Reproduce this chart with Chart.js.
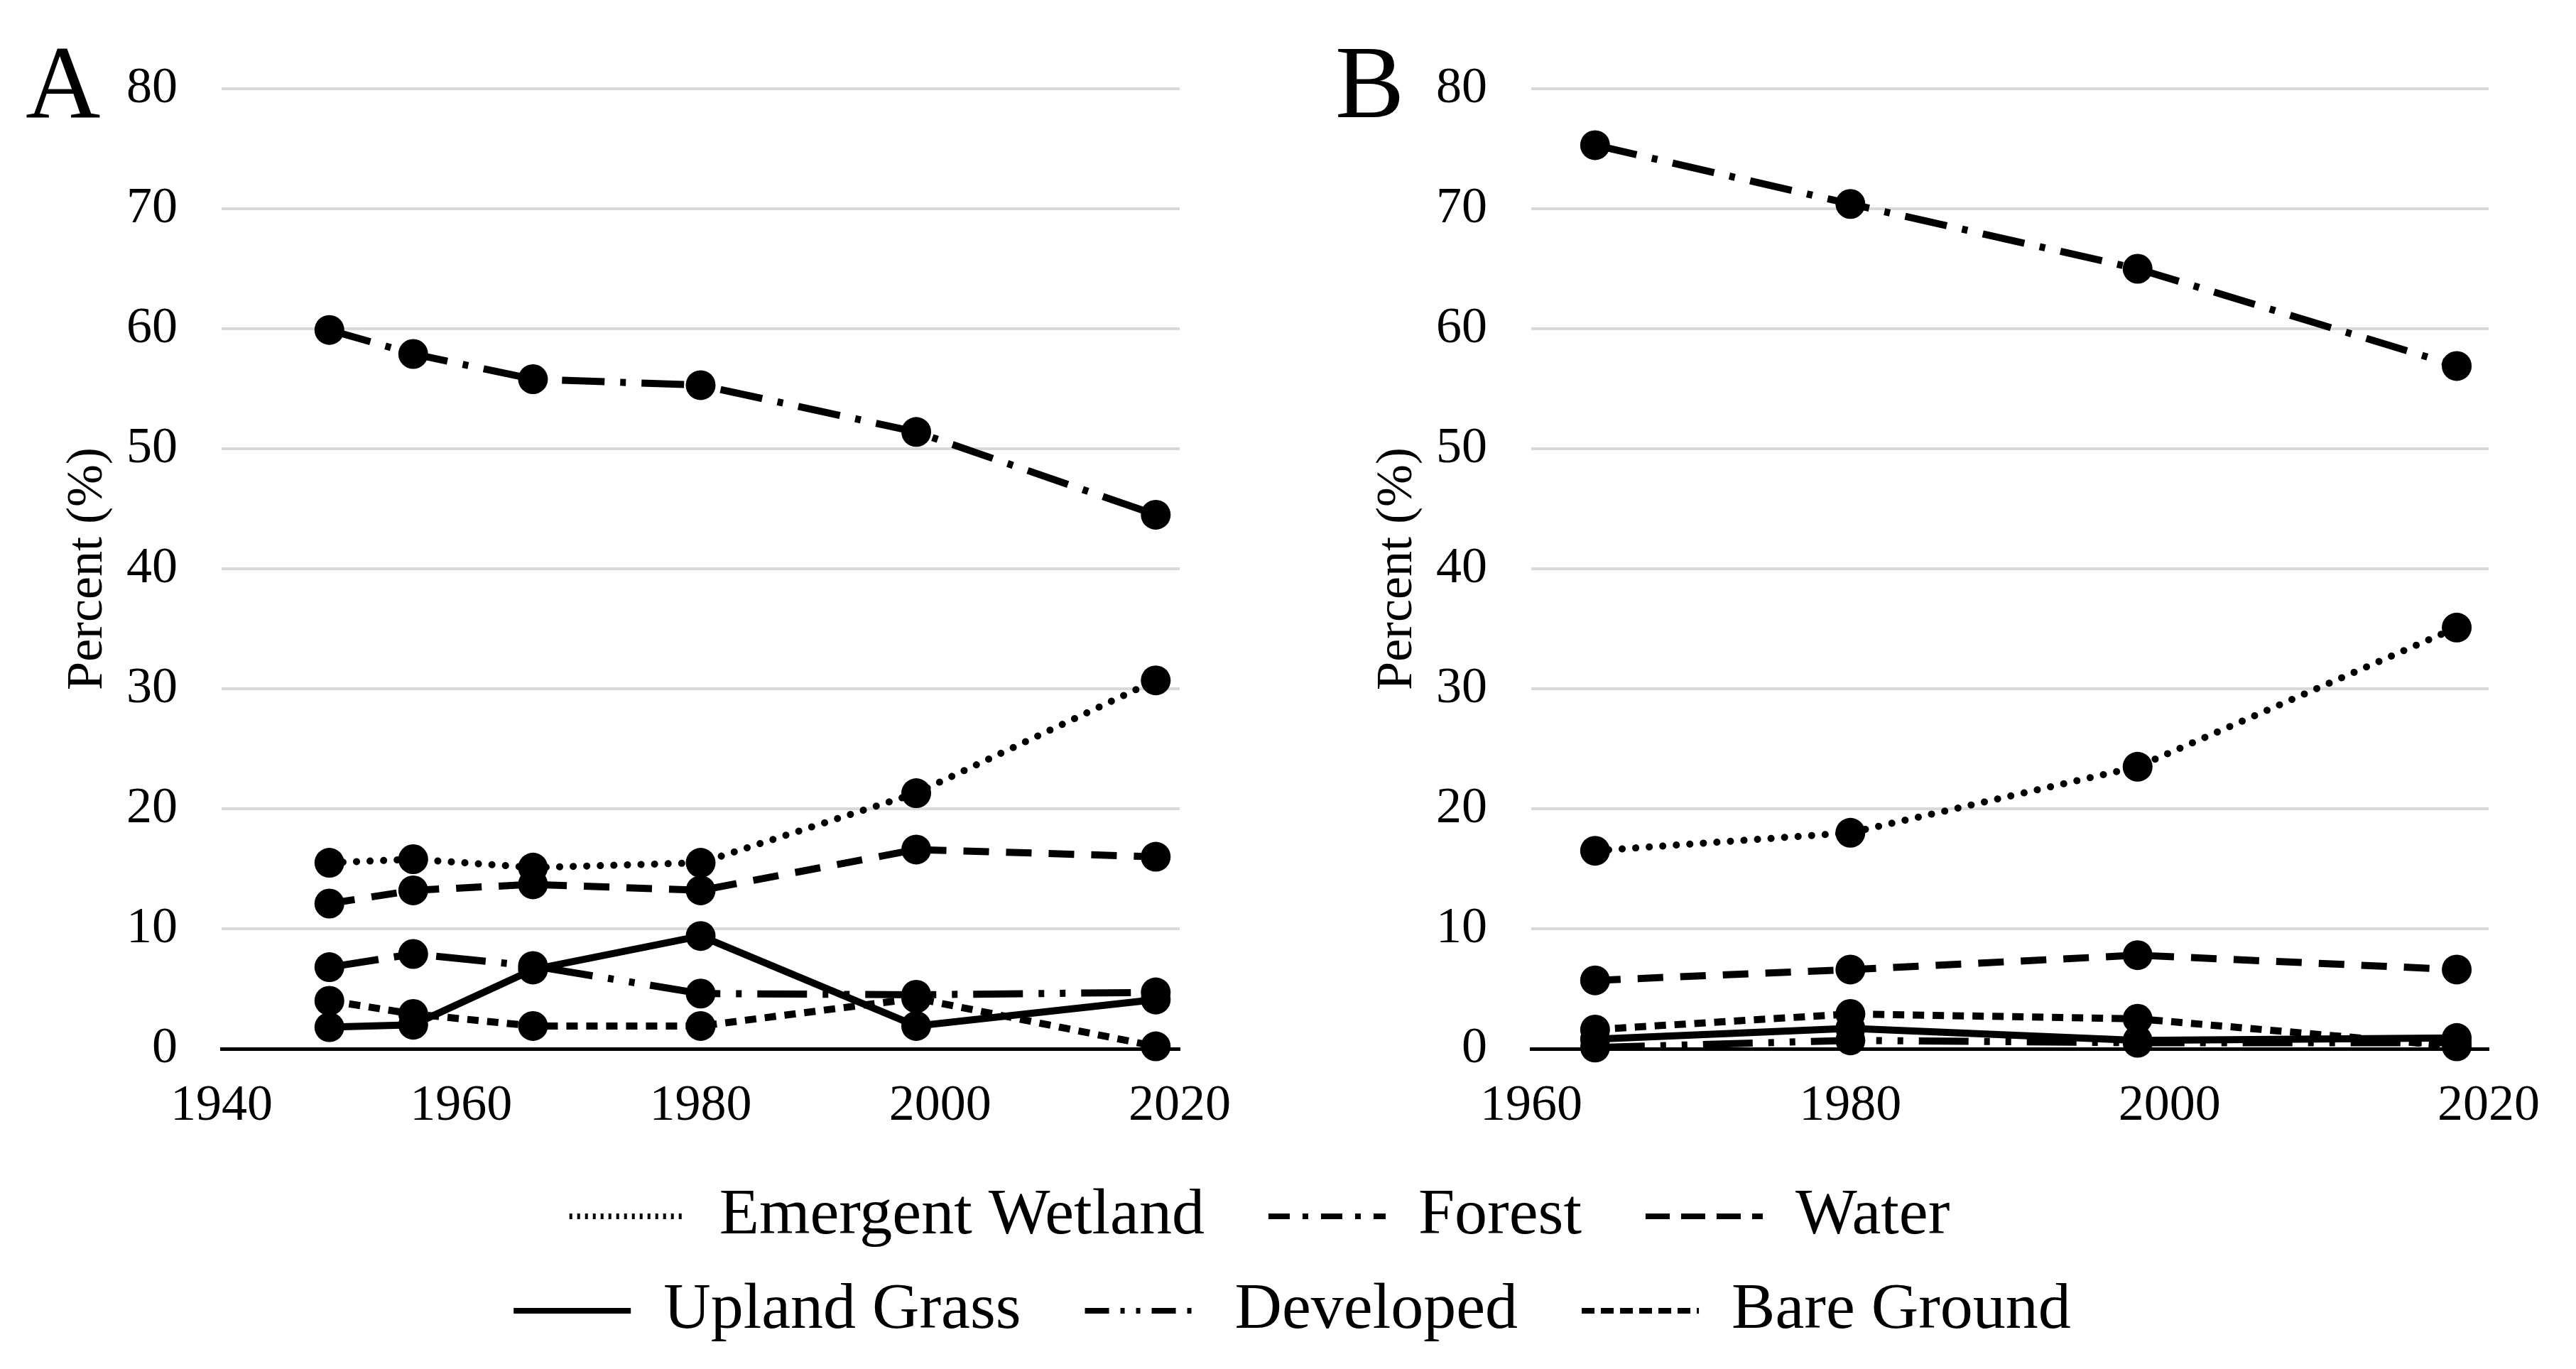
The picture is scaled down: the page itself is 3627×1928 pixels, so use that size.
<!DOCTYPE html>
<html>
<head>
<meta charset="utf-8">
<title>Land cover change, panels A and B</title>
<script src="https://cdn.jsdelivr.net/npm/chart.js@4.4.1/dist/chart.umd.min.js"></script>
<style>
  html, body { margin: 0; padding: 0; background: #fff; overflow: hidden; }
  body { width: 3627px; height: 1928px; position: relative; }
  canvas { position: absolute; }
  .panel-letter {
    position: absolute;
    font-family: 'Liberation Serif', 'Times New Roman', serif;
    font-size: 146px;
    line-height: 146px;
    color: #000;
  }
</style>
</head>
<body>
<div class="panel-letter" style="left:36px; top:43px;">A</div>
<div class="panel-letter" style="left:1880px; top:43px;">B</div>
<canvas id="chart-a" width="1790" height="1640" style="left:0; top:0;"></canvas>
<canvas id="chart-b" width="1783" height="1640" style="left:1844px; top:0;"></canvas>
<canvas id="legend-row1" width="3627" height="400" style="left:-40px; top:1577px;"></canvas>
<canvas id="legend-row2" width="3627" height="400" style="left:6px; top:1710px;"></canvas>

<script>
// Land cover share (%) over time, two sites (A, B).
// Values.

const SERIES = ["Emergent Wetland", "Forest", "Water", "Upland Grass", "Developed", "Bare Ground"];
const LEGEND_ROW1 = ["Emergent Wetland", "Forest", "Water"];
const LEGEND_ROW2 = ["Upland Grass", "Developed", "Bare Ground"];

// ── Panel A ──────────────────────────────────────────────────────────────────
const YEARS_A     = [1949, 1956, 1966, 1980, 1998, 2018];
const WETLAND_A   = [15.5, 15.8, 15.1, 15.5, 21.3, 30.7];
const FOREST_A    = [59.9, 57.9, 55.8, 55.3, 51.4, 44.5];
const WATER_A     = [12.1, 13.2, 13.7, 13.2, 16.6, 16.0];
const UPLAND_A    = [1.8, 2.0, 6.6, 9.4, 1.9, 4.1];
const DEVELOPED_A = [6.8, 7.9, 6.9, 4.6, 4.5, 4.7];
const BARE_A      = [4.0, 2.9, 1.9, 1.9, 4.2, 0.2];
const X_TICKS_A   = [1940, 1960, 1980, 2000, 2020];

// ── Panel B ──────────────────────────────────────────────────────────────────
const YEARS_B     = [1964, 1980, 1998, 2018];
const WETLAND_B   = [16.5, 18.0, 23.5, 35.1];
const FOREST_B    = [75.3, 70.4, 65.0, 56.9];
const WATER_B     = [5.7, 6.6, 7.8, 6.6];
const UPLAND_B    = [0.8, 1.7, 0.7, 0.9];
const DEVELOPED_B = [0.1, 0.7, 0.5, 0.5];
const BARE_B      = [1.6, 2.9, 2.5, 0.2];
const X_TICKS_B   = [1960, 1980, 2000, 2020];

const Y_TICKS = [0, 10, 20, 30, 40, 50, 60, 70, 80];

// Line styles (greyscale figure: all black, told apart by dash pattern)
const PLOT_DASH = {
  "Emergent Wetland": [0.1, 19],
  "Forest":           [60, 22, 8, 22],
  "Water":            [36, 24],
  "Upland Grass":     [],
  "Developed":        [70, 22, 8, 22, 8, 22],
  "Bare Ground":      [16, 12],
};
const LEGEND_DASH = {
  "Emergent Wetland": [4, 7],
  "Forest":           [30, 18, 8, 18],
  "Water":            [34, 16],
  "Upland Grass":     [],
  "Developed":        [34, 16, 6, 16, 6, 16],
  "Bare Ground":      [18, 9],
};

const FONT_FAMILY = "'Liberation Serif', 'Times New Roman', serif";
Chart.defaults.font.family = FONT_FAMILY;
Chart.defaults.color = "#000";

function fixedTicks(values) {
  return scale => { scale.ticks = values.map(v => ({ value: v })); };
}

function renderPanel(canvasId, years, values, xTicks, rightPad) {
  const ctx = document.getElementById(canvasId).getContext("2d");

  const datasets = SERIES.map((name, i) => ({
    label: name,
    data: years.map((yr, j) => ({ x: yr, y: values[i][j] })),
    borderColor: "#000",
    backgroundColor: "#000",
    borderWidth: 10,
    borderDash: PLOT_DASH[name],
    borderCapStyle: name === "Emergent Wetland" ? "round" : "butt",
    pointRadius: 21,
    pointBackgroundColor: "#000",
    pointBorderWidth: 0,
    tension: 0,
    fill: false,
    clip: false,
  }));

  return new Chart(ctx, {
    type: "line",
    data: { datasets },
    options: {
      responsive: false,
      animation: false,
      devicePixelRatio: 1,
      events: [],
      layout: { padding: { top: 125, right: rightPad, bottom: 0, left: 0 } },
      plugins: {
        legend: { display: false },
        tooltip: { enabled: false },
      },
      scales: {
        x: {
          type: "linear",
          min: xTicks[0],
          max: xTicks[xTicks.length - 1],
          afterBuildTicks: fixedTicks(xTicks),
          afterFit: s => { s.height = 163; },
          grid: { display: false, drawTicks: false },
          border: { display: true, color: "#000", width: 5 },
          ticks: {
            font: { size: 72 },
            color: "#000",
            padding: 38,
            maxRotation: 0,
            autoSkip: false,
            callback: v => String(v),
          },
        },
        y: {
          min: 0,
          max: 80,
          afterBuildTicks: fixedTicks(Y_TICKS),
          afterFit: s => { s.width = 312; },
          grid: {
            drawTicks: false,
            color: c => (c.tick && c.tick.value === 0) ? "rgba(0,0,0,0)" : "#d9d9d9",
            lineWidth: 4,
          },
          border: { display: false },
          ticks: {
            font: { size: 72 },
            color: "#000",
            padding: 62,
            callback: v => String(v),
          },
          title: {
            display: true,
            text: "Percent (%)",
            font: { size: 72 },
            color: "#000",
            padding: { top: 81, bottom: 0 },
          },
        },
      },
    },
  });
}

// Legend rows: legend-only charts, one per row, so rows wrap as in the figure
function renderLegendRow(canvasId, names) {
  const ctx = document.getElementById(canvasId).getContext("2d");
  return new Chart(ctx, {
    type: "line",
    data: {
      datasets: names.map(name => ({
        label: name,
        data: [],
        borderColor: "#000",
        borderWidth: 8,
        borderDash: LEGEND_DASH[name],
      })),
    },
    options: {
      responsive: false,
      animation: false,
      devicePixelRatio: 1,
      events: [],
      scales: { x: { display: false }, y: { display: false } },
      plugins: {
        tooltip: { enabled: false },
        legend: {
          position: "top",
          labels: {
            usePointStyle: true,
            pointStyle: "line",
            pointStyleWidth: 165,
            padding: 90,
            color: "#000",
            font: { size: 92 },
            generateLabels: chart => chart.data.datasets.map((ds, i) => ({
              text: ds.label,
              fillStyle: "#000",
              strokeStyle: "#000",
              fontColor: "#000",
              lineWidth: ds.borderWidth,
              lineDash: ds.borderDash,
              lineCap: "butt",
              pointStyle: "line",
              hidden: false,
              datasetIndex: i,
            })),
          },
        },
      },
    },
  });
}

renderPanel("chart-a", YEARS_A,
  [WETLAND_A, FOREST_A, WATER_A, UPLAND_A, DEVELOPED_A, BARE_A], X_TICKS_A, 129);
renderPanel("chart-b", YEARS_B,
  [WETLAND_B, FOREST_B, WATER_B, UPLAND_B, DEVELOPED_B, BARE_B], X_TICKS_B, 123);
renderLegendRow("legend-row1", LEGEND_ROW1);
renderLegendRow("legend-row2", LEGEND_ROW2);
</script>
</body>
</html>
